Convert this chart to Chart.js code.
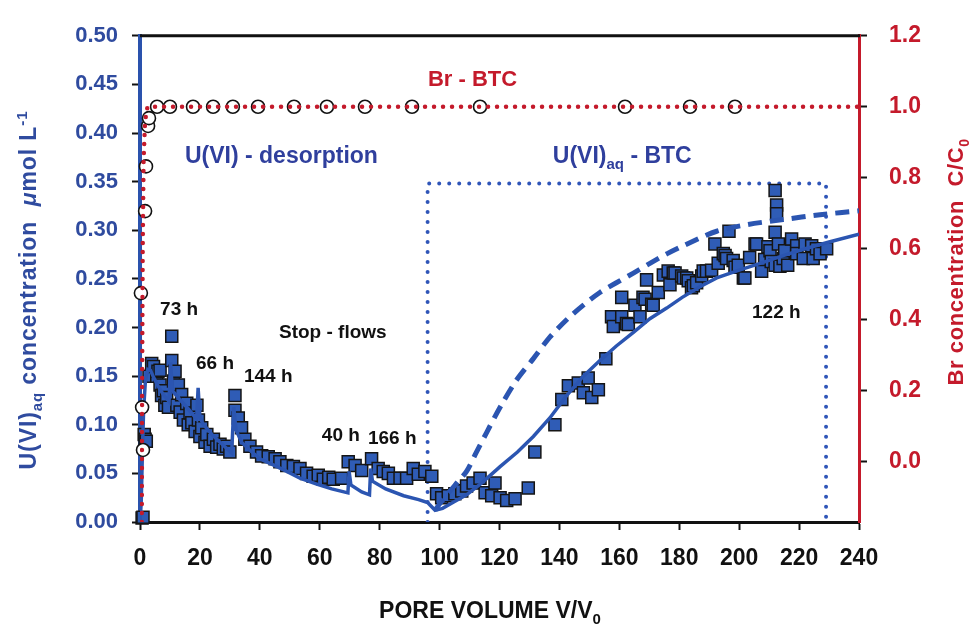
<!DOCTYPE html>
<html>
<head>
<meta charset="utf-8">
<title>U(VI) desorption and breakthrough</title>
<script src="https://cdn.jsdelivr.net/npm/chart.js@4.4.1/dist/chart.umd.min.js"></script>
<style>
  html, body { margin: 0; padding: 0; background: #fff; }
  #wrap { width: 971px; height: 625px; }
</style>
</head>
<body>
<div id="wrap"><canvas id="chart" width="971" height="625"></canvas></div>
<script>
// --- Axis ticks ---
const xTicks = [0, 20, 40, 60, 80, 100, 120, 140, 160, 180, 200, 220, 240];
const uTicks = [0, 0.05, 0.10, 0.15, 0.20, 0.25, 0.30, 0.35, 0.40, 0.45, 0.50];
const brTicks = [0, 0.2, 0.4, 0.6, 0.8, 1.0, 1.2];

// --- U(VI)aq measured (squares), pore volume vs umol/L ---
const obsX = [0.7, 1.0, 1.4, 1.7, 2.1, 3.0, 3.9, 4.5, 5.6, 6.0, 6.7, 6.7, 7.2, 7.8, 8.3, 8.9, 9.5,
  10.6, 10.6, 11.2, 11.7, 12.3, 12.8, 13.4, 13.9, 14.5, 15.6, 16.1, 16.7, 17.3, 18.4, 19.0, 19.5,
  20.0, 20.6, 21.7, 22.3, 23.4, 24.5, 25.6, 26.7, 27.8, 28.9, 30.0, 31.7, 31.7, 32.8, 33.9, 35.0,
  36.7, 38.9, 40.6, 42.8, 45.1, 46.7, 49.0, 51.2, 53.4, 55.6, 57.8, 59.5, 61.2, 63.0, 64.5, 67.3,
  69.5, 71.8, 74.0, 77.3, 79.5, 81.2, 82.9, 84.6, 86.8, 89.0, 91.2, 92.9, 95.1, 97.4,
  99.0, 100.7, 102.9, 105.1, 107.4, 109.0, 111.2, 113.5, 115.2, 117.4, 118.5, 120.2, 122.4, 125.2,
  129.6, 131.8, 138.5, 140.8, 143.0, 146.3, 148.0, 149.6, 150.8, 153.0, 155.5, 157.4, 158.0, 160.8,
  160.8, 162.4, 163.0, 165.2, 166.9, 167.9, 168.6, 169.1, 170.8, 171.3, 173.0, 174.7, 176.3, 176.9,
  178.0, 178.6, 180.8, 181.4, 182.5, 183.0, 184.1, 184.7, 185.8, 187.5, 188.0, 189.1, 190.8, 191.9,
  193.0, 194.7, 195.3, 195.8, 196.6, 198.0, 198.6, 199.7, 201.4, 201.9, 203.5, 205.3, 205.8, 207.5,
  208.5, 209.6, 210.3, 210.7, 212.0, 212.5, 212.5, 212.0, 213.1, 212.0, 213.6, 214.7, 215.2, 216.2,
  217.5, 219.2, 219.2, 221.4, 222.0, 224.2, 224.7, 225.8, 227.0, 229.2];
const obsY = [0.004, 0.005, 0.090, 0.085, 0.083, 0.150, 0.163, 0.160, 0.150, 0.155, 0.156, 0.141, 0.130, 0.135, 0.120, 0.128, 0.118,
  0.191, 0.166, 0.145, 0.155, 0.120, 0.141, 0.113, 0.131, 0.105, 0.122, 0.100, 0.112, 0.102, 0.093, 0.120, 0.105,
  0.088, 0.097, 0.082, 0.090, 0.078, 0.085, 0.077, 0.080, 0.075, 0.078, 0.072, 0.130, 0.115, 0.107, 0.097, 0.085,
  0.078, 0.072, 0.068, 0.067, 0.065, 0.062, 0.058, 0.057, 0.055, 0.050, 0.047, 0.048, 0.044, 0.046, 0.044, 0.045,
  0.062, 0.058, 0.053, 0.065, 0.055, 0.052, 0.050, 0.045, 0.045, 0.045, 0.055, 0.049, 0.052, 0.047,
  0.029, 0.025, 0.027, 0.029, 0.032, 0.037, 0.040, 0.045, 0.030, 0.027, 0.040, 0.025, 0.022, 0.024,
  0.035, 0.072, 0.100, 0.126, 0.140, 0.143, 0.133, 0.148, 0.128, 0.136, 0.168, 0.211, 0.201, 0.231,
  0.211, 0.204, 0.203, 0.223, 0.211, 0.231, 0.229, 0.249, 0.224, 0.223, 0.236, 0.254, 0.258, 0.244,
  0.256, 0.256, 0.253, 0.251, 0.251, 0.248, 0.241, 0.243, 0.246, 0.253, 0.258, 0.258, 0.259, 0.286,
  0.266, 0.276, 0.274, 0.271, 0.299, 0.269, 0.262, 0.264, 0.251, 0.251, 0.272, 0.286, 0.286, 0.258,
  0.270, 0.283, 0.279, 0.268, 0.341, 0.326, 0.317, 0.298, 0.286, 0.264, 0.263, 0.271, 0.279, 0.264,
  0.291, 0.284, 0.276, 0.271, 0.286, 0.284, 0.271, 0.281, 0.276, 0.281];

// --- U(VI)aq model, solid line ---
const modelX = [0, 0.4, 0.8, 1.2, 1.8, 2.6, 3.5, 4.5, 6, 7.8, 9.7, 10.2, 10.8, 13, 15.6, 18.9, 19.4, 20,
  21, 24, 26.7, 30.6, 31.3, 32, 33.9, 37, 40, 45, 49, 53.4, 59, 64, 69.4, 69.8, 70.4, 74, 76.6, 77,
  77.6, 82, 88, 93, 96, 98.5, 101, 105, 109, 114, 120.2, 126, 131.3, 136.8, 142.4, 148, 153.5, 159,
  164.7, 170.2, 175.8, 181, 186.9, 192.5, 200, 207, 214.7, 222, 230, 240];
const modelY = [0, 0.02, 0.07, 0.115, 0.145, 0.157, 0.156, 0.149, 0.140, 0.131, 0.124, 0.164, 0.135, 0.127, 0.118, 0.106, 0.138, 0.108,
  0.101, 0.090, 0.082, 0.071, 0.118, 0.095, 0.082, 0.073, 0.065, 0.058, 0.052, 0.045, 0.039, 0.034, 0.030, 0.052, 0.038, 0.031, 0.028, 0.055,
  0.042, 0.034, 0.027, 0.023, 0.020, 0.012, 0.014, 0.021, 0.028, 0.040, 0.057, 0.072, 0.088, 0.107, 0.130, 0.150, 0.166, 0.181,
  0.195, 0.209, 0.220, 0.231, 0.242, 0.251, 0.259, 0.266, 0.274, 0.281, 0.288, 0.296];

// --- U(VI)aq model, dashed line ---
const dashX = [98.5, 100.1, 103, 106, 109, 112, 115.7, 120.2, 125.7, 131.3, 136.8, 142.4, 148, 153.5,
  159, 164.7, 170.2, 176, 182, 192.5, 203, 214.7, 227, 240];
const dashY = [0.012, 0.019, 0.030, 0.041, 0.052, 0.070, 0.092, 0.118, 0.146, 0.168, 0.190, 0.208, 0.223, 0.236,
  0.246, 0.256, 0.266, 0.276, 0.285, 0.299, 0.306, 0.311, 0.316, 0.320];

// --- Br BTC measured (circles), C/C0 ---
const brObsX = [0.3, 1.0, 0.7, 1.7, 2.0, 2.7, 3.0, 5.7, 10.0, 17.7, 24.4, 31.0, 39.4, 51.4, 62.4, 75.1,
  90.8, 113.5, 161.9, 183.6, 198.6];
const brObsY = [0.475, 0.033, 0.153, 0.706, 0.832, 0.946, 0.968, 1.0, 1.0, 1.0, 1.0, 1.0, 1.0, 1.0, 1.0, 1.0,
  1.0, 1.0, 1.0, 1.0, 1.0];

// --- Br BTC model, dotted ---
const brModelX = [0.6, 0.7, 0.9, 1.2, 1.7, 2.5, 240];
const brModelY = [-0.17, 0.2, 0.6, 0.85, 0.96, 1.0, 1.0];

// --- BTC window (dotted box) ---
const boxX = [96, 96, 229, 229];
const boxY = [0, 0.348, 0.348, 0];

const FONT = '"Liberation Sans", Arial, Helvetica, sans-serif';
const BLUE_TXT = '#2f4b9f';
const INDIGO = '#2f3f9d';
const RED = '#c41a2b';
const MARK_BLUE = '#2f5cb6';
const LINE_BLUE = '#2b55b1';

const pts = (xs, ys) => xs.map((x, i) => ({ x: x, y: ys[i] }));

// text labels inside the plot, placed in data units (left axis)
const notes = [
  { parts: [{ t: 'Br - BTC' }], x: 96.1, y: 0.457, size: 22, color: RED },
  { parts: [{ t: 'U(VI) - desorption' }], x: 15.0, y: 0.378, size: 23, color: INDIGO },
  { parts: [{ t: 'U(VI)' }, { t: 'aq', sub: true }, { t: ' - BTC' }], x: 137.8, y: 0.378, size: 23, color: INDIGO },
  { parts: [{ t: '73 h' }], x: 6.7, y: 0.220, size: 19, color: '#111' },
  { parts: [{ t: '66 h' }], x: 18.7, y: 0.164, size: 19, color: '#111' },
  { parts: [{ t: '144 h' }], x: 34.7, y: 0.151, size: 19, color: '#111' },
  { parts: [{ t: 'Stop - flows' }], x: 46.4, y: 0.196, size: 19, color: '#111' },
  { parts: [{ t: '40 h' }], x: 60.7, y: 0.090, size: 19, color: '#111' },
  { parts: [{ t: '166 h' }], x: 76.1, y: 0.087, size: 19, color: '#111' },
  { parts: [{ t: '122 h' }], x: 204.3, y: 0.217, size: 19, color: '#111' }
];

function fontFor(p, size) {
  const s = (p.sub || p.sup) ? Math.round(size * 0.64) : size;
  return (p.italic ? 'italic ' : '') + 'bold ' + s + 'px ' + FONT;
}

// draws text with sub/superscripts, baseline at y
function drawRich(ctx, parts, x, y, size, color, align, spacing) {
  ctx.letterSpacing = (spacing || 0) + 'px';
  let total = 0;
  parts.forEach(p => { ctx.font = fontFor(p, size); total += ctx.measureText(p.t).width; });
  let cx = align === 'center' ? x - total / 2 : x;
  ctx.fillStyle = color;
  ctx.textAlign = 'left';
  ctx.textBaseline = 'alphabetic';
  parts.forEach(p => {
    ctx.font = fontFor(p, size);
    const dy = p.sub ? size * 0.28 : (p.sup ? -size * 0.40 : 0);
    ctx.fillText(p.t, cx, y + dy);
    cx += ctx.measureText(p.t).width;
  });
  ctx.letterSpacing = '0px';
}

const decorPlugin = {
  id: 'decor',
  afterDraw(chart) {
    const ctx = chart.ctx;
    const a = chart.chartArea;
    const sx = chart.scales.x, sy = chart.scales.y;
    ctx.save();
    // top frame line
    ctx.strokeStyle = '#111';
    ctx.lineWidth = 3;
    ctx.beginPath();
    ctx.moveTo(a.left, a.top);
    ctx.lineTo(a.right + 1, a.top);
    ctx.stroke();

    notes.forEach(n => {
      const px = sx.getPixelForValue(n.x);
      const py = sy.getPixelForValue(n.y) + n.size * 0.36;
      drawRich(ctx, n.parts, px, py, n.size, n.color, 'left');
    });

    // left axis title
    ctx.save();
    ctx.translate(36, 290);
    ctx.rotate(-Math.PI / 2);
    drawRich(ctx, [{ t: 'U(VI)' }, { t: 'aq', sub: true }, { t: ' concentration  ' }, { t: 'μ', italic: true },
      { t: 'mol L' }, { t: '-1', sup: true }], 0, 0, 23, BLUE_TXT, 'center', 0.9);
    ctx.restore();

    // right axis title
    ctx.save();
    ctx.translate(963, 262);
    ctx.rotate(-Math.PI / 2);
    drawRich(ctx, [{ t: 'Br concentration  C/C' }, { t: '0', sub: true }], 0, 0, 22, RED, 'center', 0.6);
    ctx.restore();

    // x axis title
    drawRich(ctx, [{ t: 'PORE VOLUME V/V' }, { t: '0', sub: true }], 490, 618, 23, '#111', 'center');
    ctx.restore();
  }
};

const tickFont = (size) => ({ family: FONT, size: size, weight: 'bold' });

new Chart(document.getElementById('chart').getContext('2d'), {
  type: 'scatter',
  data: {
    datasets: [
      {
        label: 'Br model',
        data: pts(brModelX, brModelY),
        yAxisID: 'y2',
        showLine: true,
        borderColor: RED,
        borderWidth: 4.5,
        borderDash: [0, 9],
        borderCapStyle: 'round',
        pointRadius: 0,
        tension: 0
      },
      {
        label: 'Br observed',
        data: pts(brObsX, brObsY),
        yAxisID: 'y2',
        pointStyle: 'circle',
        pointRadius: 6.5,
        pointBackgroundColor: '#fff',
        pointBorderColor: '#111',
        pointBorderWidth: 1.6,
        clip: false
      },
      {
        label: 'U(VI) model',
        data: pts(modelX, modelY),
        yAxisID: 'y',
        showLine: true,
        borderColor: LINE_BLUE,
        borderWidth: 3.5,
        pointRadius: 0,
        tension: 0
      },
      {
        label: 'U(VI) model (dashed)',
        data: pts(dashX, dashY),
        yAxisID: 'y',
        showLine: true,
        borderColor: LINE_BLUE,
        borderWidth: 5,
        borderDash: [14, 8],
        pointRadius: 0,
        tension: 0.3
      },
      {
        label: 'U(VI) observed',
        data: pts(obsX, obsY),
        yAxisID: 'y',
        pointStyle: 'rect',
        pointRadius: 8.5,
        pointBackgroundColor: MARK_BLUE,
        pointBorderColor: '#151515',
        pointBorderWidth: 1.5,
        clip: false
      },
      {
        label: 'BTC window',
        data: pts(boxX, boxY),
        yAxisID: 'y',
        showLine: true,
        borderColor: '#2f55b8',
        borderWidth: 4,
        borderDash: [0, 10],
        borderCapStyle: 'round',
        pointRadius: 0,
        tension: 0
      }
    ]
  },
  options: {
    responsive: false,
    devicePixelRatio: 1,
    animation: false,
    layout: { padding: { top: 20, right: 0, left: 0, bottom: 0 } },
    plugins: { legend: { display: false }, tooltip: { enabled: false } },
    scales: {
      x: {
        type: 'linear',
        min: 0, max: 240,
        afterBuildTicks: s => { s.ticks = xTicks.map(v => ({ value: v })); },
        afterFit: s => { s.height = 103; },
        grid: { drawOnChartArea: false, drawTicks: true, tickLength: 8, tickWidth: 2, tickColor: '#111' },
        border: { display: true, color: '#111', width: 3 },
        ticks: { color: '#111', font: tickFont(23), padding: 15, maxRotation: 0, callback: v => String(v) }
      },
      y: {
        type: 'linear',
        position: 'left',
        min: 0, max: 0.5,
        afterBuildTicks: s => { s.ticks = uTicks.map(v => ({ value: v })); },
        afterFit: s => { s.width = 140; },
        grid: { drawOnChartArea: false, drawTicks: true, tickLength: 8, tickWidth: 2, tickColor: '#111' },
        border: { display: true, color: '#2a52ad', width: 4 },
        ticks: { color: BLUE_TXT, font: tickFont(22), padding: 14, callback: v => v.toFixed(2) }
      },
      y2: {
        type: 'linear',
        position: 'right',
        min: -0.17, max: 1.2,
        afterBuildTicks: s => { s.ticks = brTicks.map(v => ({ value: v })); },
        afterFit: s => { s.width = 112; },
        grid: { drawOnChartArea: false, drawTicks: true, tickLength: 8, tickWidth: 2, tickColor: '#111' },
        border: { display: true, color: RED, width: 3 },
        ticks: { color: RED, font: tickFont(23), padding: 22, callback: v => v.toFixed(1) }
      }
    }
  },
  plugins: [decorPlugin]
});
</script>
</body>
</html>
